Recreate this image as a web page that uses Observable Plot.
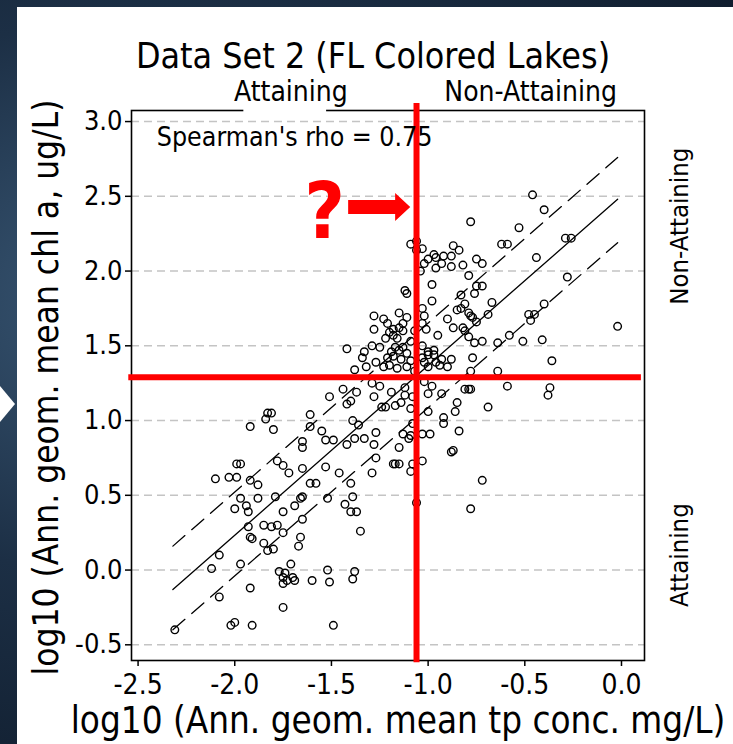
<!DOCTYPE html>
<html>
<head>
<meta charset="utf-8">
<script src="https://cdn.jsdelivr.net/npm/d3@7"></script>
<script src="https://cdn.jsdelivr.net/npm/@observablehq/plot@0.6"></script>
<style>
  html, body { margin: 0; padding: 0; }
  body { width: 733px; height: 744px; position: relative; overflow: hidden;
         background: radial-gradient(ellipse at 20% 40%, #3b5a78 0%, #1c2f45 45%, #0c1726 100%); }
  #panel { position: absolute; left: 17px; top: 7px; right: 0; bottom: 0; background: #fff; }
  #tri { position: absolute; left: 0; top: 386px; }
  #chart { position: absolute; left: 0; top: 0; }
  #chart svg { overflow: visible; }
</style>
</head>
<body>
<div id="panel"></div>
<svg id="tri" width="16" height="36"><polygon points="0,0 15,18 0,36" fill="#fff"/></svg>
<div id="chart"></div>
<script>
// ---- data (log10 annual geometric means) ----
const lakesA = [[-1.44,1.21],[-1.29,1.25],[-1.25,1.23],[-1.37,1.19],[-1.51,1.16],[-1.19,1.19],[-1.12,1.22],[-1.42,1.11],[-1.40,1.13],[-1.28,1.16],[-1.24,1.09],[-1.22,1.09],[-1.17,1.10],[-1.14,1.12],[-1.12,1.17],[-1.09,1.08],[-1.08,1.16],[-1.02,1.26],[-1.00,1.18],[-0.98,1.23],[-1.00,1.06],[-1.83,1.05],[-1.81,1.05],[-1.84,1.01],[-1.92,0.96],[-1.80,0.94],[-1.61,1.04],[-1.61,0.96],[-1.39,1.00],[-1.36,0.97],[-1.55,0.93],[-1.53,0.87],[-1.49,0.87],[-1.42,0.84],[-1.38,0.88],[-1.33,0.88],[-1.28,0.84],[-1.27,0.92],[-1.65,0.86],[-1.65,0.82],[-1.13,0.91],[-1.10,0.88],[-1.09,0.90],[-1.08,0.98],[-0.99,0.91],[-1.15,0.82]];
const lakesB = [[-1.27,0.75],[-1.18,0.71],[-1.17,0.71],[-1.15,0.71],[-1.08,0.71],[-1.09,0.66],[-1.03,0.73],[-1.29,0.65],[-1.46,0.65],[-1.40,0.58],[-1.78,0.73],[-1.75,0.70],[-1.72,0.65],[-1.99,0.71],[-1.97,0.71],[-2.10,0.61],[-2.03,0.62],[-1.99,0.62],[-1.92,0.60],[-1.88,0.57],[-1.65,0.68],[-1.61,0.58],[-1.58,0.58],[-1.53,0.69],[-1.97,0.48],[-1.88,0.48],[-1.79,0.49],[-2.00,0.41],[-1.94,0.43],[-1.93,0.39],[-1.75,0.39],[-1.66,0.48],[-1.65,0.49],[-1.69,0.43],[-1.65,0.34],[-1.52,0.48],[-1.43,0.44],[-1.39,0.49],[-1.40,0.39],[-1.37,0.39],[-1.35,0.26],[-1.93,0.29],[-1.85,0.30],[-1.81,0.29],[-1.78,0.30],[-1.75,0.25],[-1.85,0.18],[-1.83,0.13],[-1.80,0.14],[-1.92,0.22],[-1.91,0.21],[-1.66,0.22],[-1.67,0.16],[-2.08,0.10],[-2.12,0.01],[-1.97,0.04],[-1.92,-0.12],[-2.08,-0.18],[-2.31,-0.40],[-2.02,-0.37],[-2.00,-0.35],[-1.91,-0.37],[-1.77,-0.01],[-1.74,-0.02],[-1.71,0.04],[-1.75,-0.05],[-1.75,-0.09],[-1.73,-0.07],[-1.70,-0.05],[-1.69,-0.07],[-1.75,-0.25],[-1.60,-0.07],[-1.52,0.00],[-1.51,-0.08],[-1.38,-0.01],[-1.39,-0.06],[-1.49,-0.37]];
const lakesC = [[-1.03,0.91],[-1.06,0.45],[-0.85,1.12],[-0.86,1.06],[-0.69,1.09],[-0.92,1.02],[-0.92,0.98],[-0.84,0.93],[-0.88,0.79],[-0.87,0.80],[-0.72,0.60],[-0.78,0.41],[-0.93,1.18],[-0.59,1.23],[-0.37,1.22],[-0.38,1.17],[-0.79,1.21],[-0.78,1.21],[-0.81,1.21]];
const lakesD = [[-1.09,2.18],[-1.06,2.20],[-1.03,2.15],[-1.06,2.14],[-1.00,2.08],[-0.97,2.11],[-0.96,2.09],[-1.02,2.05],[-0.96,2.02],[-1.04,2.00],[-1.12,1.87],[-1.11,1.85],[-0.98,1.91],[-0.98,1.80],[-1.03,1.75],[-1.02,1.70],[-1.28,1.70],[-1.23,1.68],[-1.15,1.72],[-1.13,1.65],[-1.21,1.65],[-1.28,1.61],[-1.18,1.61],[-1.15,1.62],[-1.20,1.59],[-1.18,1.57],[-1.22,1.55],[-1.16,1.55],[-1.09,1.53],[-1.07,1.60],[-1.01,1.61],[-1.42,1.48],[-1.29,1.50],[-1.25,1.49],[-1.17,1.49],[-1.13,1.49],[-1.03,1.50],[-0.97,1.47],[-1.33,1.46],[-1.34,1.42],[-1.32,1.36],[-1.38,1.34],[-1.27,1.39],[-1.21,1.42],[-1.18,1.43],[-1.14,1.41],[-1.11,1.45],[-1.09,1.40],[-1.23,1.36],[-1.20,1.37],[-1.16,1.35],[-1.11,1.36],[-1.07,1.33],[-1.02,1.39],[-1.00,1.36],[-0.97,1.44],[-0.96,1.39],[-1.13,1.60],[-1.11,1.69],[-1.19,1.46],[-1.15,1.47]];
const lakesE = [[-0.46,2.51],[-0.40,2.41],[-0.78,2.33],[-0.53,2.29],[-0.62,2.18],[-0.59,2.18],[-0.29,2.22],[-0.26,2.22],[-0.44,2.09],[-0.87,2.17],[-0.84,2.14],[-0.93,2.05],[-0.92,2.10],[-0.88,2.10],[-0.88,2.03],[-0.82,2.04],[-0.75,2.08],[-0.72,2.05],[-0.79,1.97],[-0.75,1.90],[-0.72,1.90],[-0.76,1.85],[-0.83,1.84],[-0.28,1.96],[-0.67,1.79],[-0.69,1.71],[-0.85,1.74],[-0.83,1.75],[-0.81,1.78],[-0.79,1.72],[-0.78,1.70],[-0.77,1.69],[-0.75,1.66],[-0.90,1.68],[-0.87,1.62],[-0.82,1.62],[-0.81,1.60],[-0.79,1.56],[-0.76,1.52],[-0.72,1.53],[-0.77,1.42],[-0.95,1.57],[-1.03,1.65],[-0.40,1.78],[-0.48,1.71],[-0.45,1.71],[-0.47,1.67],[-0.58,1.57],[-0.64,1.52],[-0.51,1.53],[-0.41,1.54],[-0.02,1.63],[-0.36,1.40],[-0.64,1.33],[-0.78,1.33],[-0.88,1.41],[-0.90,1.36],[-0.94,1.37],[-1.00,1.44],[-1.03,1.42],[-1.00,1.46],[-0.93,1.41]];

// regression fit and prediction band (endpoints)
const fitTp = [-2.32, -0.02];
const fitChl = [-0.13, 2.48];
const upperChl = [0.16, 2.76];
const lowerChl = [-0.40, 2.19];

// criteria (red cross-hair)
const tpCriterion = -1.06;
const tpCriterionSpan = [-0.62, 3.12];
const chlCriterion = 1.29;
const chlCriterionSpan = [-2.548, 0.103];

// arrow annotation outline (tp, chl)
const arrowTp = [-1.411, -1.168, -1.168, -1.090];
const arrowTop = [2.472, 2.472, 2.519, 2.425];
const arrowBottom = [2.378, 2.378, 2.331, 2.425];

// white label box of the upper "Attaining" text that hides part of the top frame line
const labelBoxTp = [-1.953, -1.525];
const labelBoxChl = [3.055, 3.10];

const xTicks = [-2.5, -2.0, -1.5, -1.0, -0.5, 0.0];
const yTicks = [-0.5, 0.0, 0.5, 1.0, 1.5, 2.0, 2.5, 3.0];

const titleText = "Data Set 2 (FL Colored Lakes)";
const xLabel = "log10 (Ann. geom. mean tp conc. mg/L)";
const yLabel = "log10 (Ann. geom. mean chl a, ug/L)";
const rhoText = "Spearman's rho = 0.75";

const FONT = "'DejaVu Sans Condensed', 'DejaVu Sans', sans-serif";

const points = [...lakesA, ...lakesB, ...lakesC, ...lakesD, ...lakesE].map(([tp, chl]) => ({tp, chl}));
const fit = fitTp.map((tp, i) => ({tp, chl: fitChl[i], up: upperChl[i], lo: lowerChl[i]}));
const arrow = arrowTp.map((tp, i) => ({tp, y1: arrowBottom[i], y2: arrowTop[i]}));
const labelBox = [{x1: labelBoxTp[0], x2: labelBoxTp[1], y1: labelBoxChl[0], y2: labelBoxChl[1]}];
const fmt = d => d.toFixed(1);
const T = {text: d => d, textAnchor: "middle", lineAnchor: "middle"};

const chart = Plot.plot({
  width: 733,
  height: 744,
  marginLeft: 131,
  marginRight: 89,
  marginTop: 110,
  marginBottom: 84,
  style: {background: "transparent", fontFamily: FONT, fontStretch: "condensed", fontSize: "28px", color: "#000", overflow: "visible"},
  x: {domain: [-2.534, 0.119]},
  y: {domain: [-0.605, 3.074]},
  marks: [
    Plot.ruleY(yTicks, {stroke: "#c4c4c4", strokeWidth: 1.6, strokeDasharray: "8,5"}),
    Plot.frame({stroke: "#000", strokeWidth: 1.6}),
    Plot.rect(labelBox, {x1: "x1", x2: "x2", y1: "y1", y2: "y2", fill: "#fff"}),
    Plot.axisX(xTicks, {tickFormat: fmt, tickSize: 6, tickPadding: 8, strokeWidth: 1.5, label: null, fontSize: 28}),
    Plot.axisY(yTicks, {tickFormat: fmt, tickSize: 6, tickPadding: 3, strokeWidth: 1.5, label: null, fontSize: 27}),
    Plot.line(fit, {x: "tp", y: "chl", stroke: "#000", strokeWidth: 1.3}),
    Plot.line(fit, {x: "tp", y: "up", stroke: "#000", strokeWidth: 1.3, strokeDasharray: "16,9"}),
    Plot.line(fit, {x: "tp", y: "lo", stroke: "#000", strokeWidth: 1.3, strokeDasharray: "16,9"}),
    Plot.dot(points, {x: "tp", y: "chl", r: 3.8, stroke: "#000", strokeWidth: 1.4, fill: "none"}),
    Plot.ruleX([tpCriterion], {x: d => d, y1: () => tpCriterionSpan[0], y2: () => tpCriterionSpan[1], stroke: "#ff0000", strokeWidth: 6}),
    Plot.ruleY([chlCriterion], {y: d => d, x1: () => chlCriterionSpan[0], x2: () => chlCriterionSpan[1], stroke: "#ff0000", strokeWidth: 6}),
    Plot.areaY(arrow, {x: "tp", y1: "y1", y2: "y2", fill: "#ff0000", curve: "linear"}),
    Plot.text(["?"], {...T, x: -1.535, y: 2.385, fill: "#ff0000", fontSize: 78, fontWeight: "bold"}),
    Plot.text([rhoText], {...T, x: -2.403, y: 2.893, textAnchor: "start", fontSize: 26.5}),
    Plot.text([titleText], {...T, frameAnchor: "top", dx: -15, dy: -54, fontSize: 35.5}),
    Plot.text(["Attaining"], {...T, x: -1.71, frameAnchor: "top", dy: -18, fontSize: 28}),
    Plot.text(["Non-Attaining"], {...T, x: -0.47, frameAnchor: "top", dy: -18, fontSize: 28}),
    Plot.text(["Non-Attaining"], {...T, y: 2.30, frameAnchor: "right", dx: 35, rotate: -90, fontSize: 25.5}),
    Plot.text(["Attaining"], {...T, y: 0.10, frameAnchor: "right", dx: 35, rotate: -90, fontSize: 25.5}),
    Plot.text([yLabel], {...T, frameAnchor: "left", dx: -85, dy: 2, rotate: -90, fontSize: 35}),
    Plot.text([xLabel], {...T, frameAnchor: "bottom", dx: 10, dy: 61, fontSize: 36.5})
  ]
});
document.getElementById("chart").appendChild(chart);
</script>
</body>
</html>
